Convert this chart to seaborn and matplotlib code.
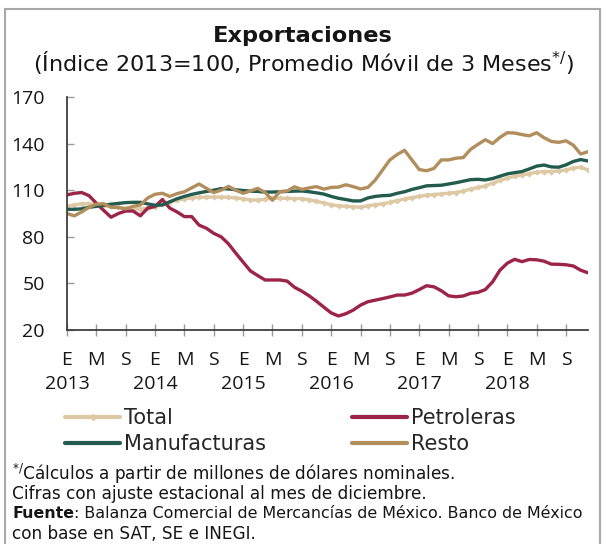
import matplotlib
matplotlib.use("Agg")
import matplotlib.pyplot as plt
from matplotlib.patches import Rectangle
from matplotlib.lines import Line2D
import matplotlib.transforms as mtransforms
import numpy as np
import pandas as pd
import seaborn as sns

# ---------------- data (monthly, Jan 2013 - Dec 2018) ----------------
meses = list(range(72))
total = [99.8, 100.5, 101.3, 101.3, 100.8, 100.2, 99.6, 99.0, 98.3, 98.1, 97.9, 98.5,
         99.3, 100.8, 102.5, 103.5, 104.5, 105.1, 105.4, 105.6, 105.6, 105.6, 105.4, 105.0,
         104.5, 103.8, 103.6, 104.2, 104.8, 104.8, 104.8, 104.6, 104.6, 103.8, 102.8, 101.8,
         100.6, 100.0, 99.6, 99.2, 99.1, 100.0, 100.6, 101.3, 102.2, 103.3, 104.3, 105.3,
         106.0, 106.8, 107.2, 107.6, 108.1, 108.5, 109.5, 110.7, 111.8, 112.8, 114.5, 116.3,
         117.8, 118.9, 119.8, 120.7, 121.5, 122.0, 122.0, 122.4, 123.0, 124.3, 124.8, 123.0]
petroleras = [107.0, 108.0, 108.5, 106.5, 101.6, 97.0, 92.6, 95.0, 96.6, 96.6, 93.5, 98.5,
              99.5, 104.0, 98.5, 96.0, 93.0, 93.0, 87.5, 85.5, 82.2, 80.0, 75.5, 69.5,
              63.7, 58.0, 55.0, 52.2, 52.2, 52.2, 51.5, 47.5, 45.0, 42.0, 38.5, 34.7,
              31.0, 29.0, 30.5, 32.8, 36.0, 38.2, 39.2, 40.2, 41.3, 42.5, 42.5, 43.7,
              46.0, 48.5, 47.8, 45.3, 42.0, 41.4, 41.9, 43.6, 44.2, 46.0, 51.0, 58.5,
              63.0, 65.5, 64.0, 65.4, 65.2, 64.3, 62.4, 62.3, 62.0, 61.2, 58.5, 56.8]
manufacturas = [97.7, 97.7, 98.0, 99.0, 99.6, 100.3, 101.0, 101.5, 102.0, 102.2, 102.2, 101.2,
                100.3, 100.5, 102.5, 104.5, 106.0, 107.3, 108.3, 109.2, 110.0, 111.0, 110.8, 110.3,
                109.8, 109.4, 109.2, 108.8, 108.8, 109.0, 109.2, 109.4, 109.5, 109.0, 108.3, 107.5,
                106.0, 104.8, 104.0, 103.1, 103.1, 105.0, 106.0, 106.5, 106.7, 108.0, 109.0, 110.5,
                111.6, 112.8, 113.0, 113.2, 114.0, 114.8, 115.8, 116.8, 117.0, 116.6, 117.5, 119.0,
                120.5, 121.3, 122.0, 123.7, 125.5, 126.2, 125.0, 124.8, 126.3, 128.5, 129.7, 128.8]
resto = [95.0, 93.5, 96.0, 99.0, 101.0, 101.3, 99.0, 98.8, 98.0, 99.6, 100.5, 105.0,
         107.4, 108.0, 106.0, 107.8, 109.0, 111.5, 114.0, 111.2, 108.5, 110.0, 112.5, 110.0,
         108.0, 109.5, 111.2, 108.5, 103.5, 109.1, 109.5, 112.2, 110.5, 111.5, 112.3, 110.7,
         111.8, 112.0, 113.5, 112.3, 110.8, 111.8, 116.5, 123.0, 129.5, 133.0, 135.7, 129.5,
         123.3, 122.5, 124.0, 129.5, 129.5, 130.6, 131.0, 136.3, 139.5, 142.5, 140.0, 144.0,
         147.0, 146.8, 145.8, 145.0, 147.0, 143.8, 141.4, 140.8, 141.8, 139.0, 133.3, 134.8]

series_nombres = ["Total", "Petroleras", "Manufacturas", "Resto"]
colores = {"Total": "#DDC9A3", "Petroleras": "#9D2449",
           "Manufacturas": "#235B4E", "Resto": "#B38E5D"}
letras = ["E", "M", "S"]
anios = ["2013", "2014", "2015", "2016", "2017", "2018"]
y_ticks = [20, 50, 80, 110, 140, 170]

df = pd.DataFrame({
    "mes": meses * 4,
    "valor": total + petroleras + manufacturas + resto,
    "serie": sum([[n] * len(meses) for n in series_nombres], []),
})

# ---------------- style ----------------
sns.set_theme(style="white")
TICKFONT = ["Open Sans", "DejaVu Sans"]
TEXTFONT = ["DejaVu Sans"]
plt.rcParams["font.family"] = TEXTFONT
plt.rcParams["mathtext.fontset"] = "dejavusans"
INK = "#151515"

W, H = 606, 544
fig = plt.figure(figsize=(W / 100, H / 100), dpi=100)
fig.patch.set_facecolor("white")
ax = fig.add_axes([67 / W, 1 - 330 / H, (588 - 67) / W, (330 - 97) / H])

for nombre in series_nombres:
    sub = df[df["serie"] == nombre]
    kw = {}
    if nombre == "Total":
        kw = dict(marker="D", markersize=3.2, markeredgewidth=0)
    sns.lineplot(data=sub, x="mes", y="valor", color=colores[nombre], lw=2.4,
                 ax=ax, legend=False, **kw)

ax.set_xlim(0, 71)
ax.set_ylim(20, 170)
ax.set_yticks(y_ticks)
ax.set_yticklabels([str(v) for v in y_ticks], family=TICKFONT)
pos = list(range(0, 72, 4))
ax.set_xticks(pos)
ax.set_xticklabels([letras[i % 3] for i in range(len(pos))], family=TICKFONT)
ax.set_xlabel("")
ax.set_ylabel("")

# years under every "E"
trans = mtransforms.blended_transform_factory(ax.transData, ax.transAxes)
for i, a in enumerate(anios):
    ax.text(pos[i * 3], (330 - 384) / (330 - 97), a, transform=trans, ha="center",
            va="center", fontsize=14, family=TICKFONT, color=INK)

for s in ["top", "right"]:
    ax.spines[s].set_visible(False)
for s in ["left", "bottom"]:
    ax.spines[s].set_color("#404040")
    ax.spines[s].set_linewidth(1.3)
ax.tick_params(axis="y", direction="in", length=5, width=1, color="#9a9a9a",
               labelsize=14, pad=16, labelcolor=INK)
ax.tick_params(axis="x", direction="inout", length=8, width=1, color="#9a9a9a",
               labelsize=14, pad=11, labelcolor=INK)
ax.tick_params(left=True, bottom=True)
ax.grid(False)

# ---------------- titles ----------------
fig.text(0.5, 1 - 36 / H, "Exportaciones", ha="center", va="center",
         fontsize=16.2, fontweight="bold", color=INK)
fig.text(0.5, 1 - 63 / H, r"(Índice 2013=100, Promedio Móvil de 3 Meses$^{*/}$)",
         ha="center", va="center", fontsize=16.0, color=INK)

# ---------------- legend (two columns) ----------------
def handle(nombre):
    if nombre == "Total":
        return Line2D([], [], color=colores[nombre], lw=3, marker="D", markersize=3,
                      markevery=[1])
    return Line2D([], [], color=colores[nombre], lw=3)

leg_kw = dict(loc="upper left", frameon=False, fontsize=15, handlelength=2.65,
              handletextpad=0.2, labelspacing=0.3, borderaxespad=0, borderpad=0)
fig.legend([handle("Total"), handle("Manufacturas")], ["Total", "Manufacturas"],
           bbox_to_anchor=(65 / W, 1 - 408 / H), **leg_kw)
fig.legend([handle("Petroleras"), handle("Resto")], ["Petroleras", "Resto"],
           bbox_to_anchor=(352 / W, 1 - 408 / H), **leg_kw)

# ---------------- footnotes ----------------
fx = 12 / W
fs = 12.2
fig.text(fx, 1 - 474 / H, r"$^{*/}$Cálculos a partir de millones de dólares nominales.",
         fontsize=fs, va="center", color=INK)
fig.text(fx, 1 - 494 / H, "Cifras con ajuste estacional al mes de diciembre.",
         fontsize=fs, va="center", color=INK)
fs3 = 11.4
t_b = fig.text(fx, 1 - 514 / H, "Fuente", fontsize=fs3, va="center",
               fontweight="bold", color=INK)
fig.canvas.draw()
bb = t_b.get_window_extent(renderer=fig.canvas.get_renderer())
fig.text(bb.x1 / W, 1 - 514 / H,
         ": Balanza Comercial de Mercancías de México. Banco de México",
         fontsize=fs3, va="center", color=INK)
fig.text(fx, 1 - 534 / H, "con base en SAT, SE e INEGI.", fontsize=fs, va="center",
         color=INK)

# frame
fig.patches.append(Rectangle((5 / W, -0.05), (600 - 5) / W, 1.05 - 9 / H,
                             transform=fig.transFigure, fill=False,
                             edgecolor="#a8a8a8", lw=1.5))

fig.savefig("out.png", dpi=100)
